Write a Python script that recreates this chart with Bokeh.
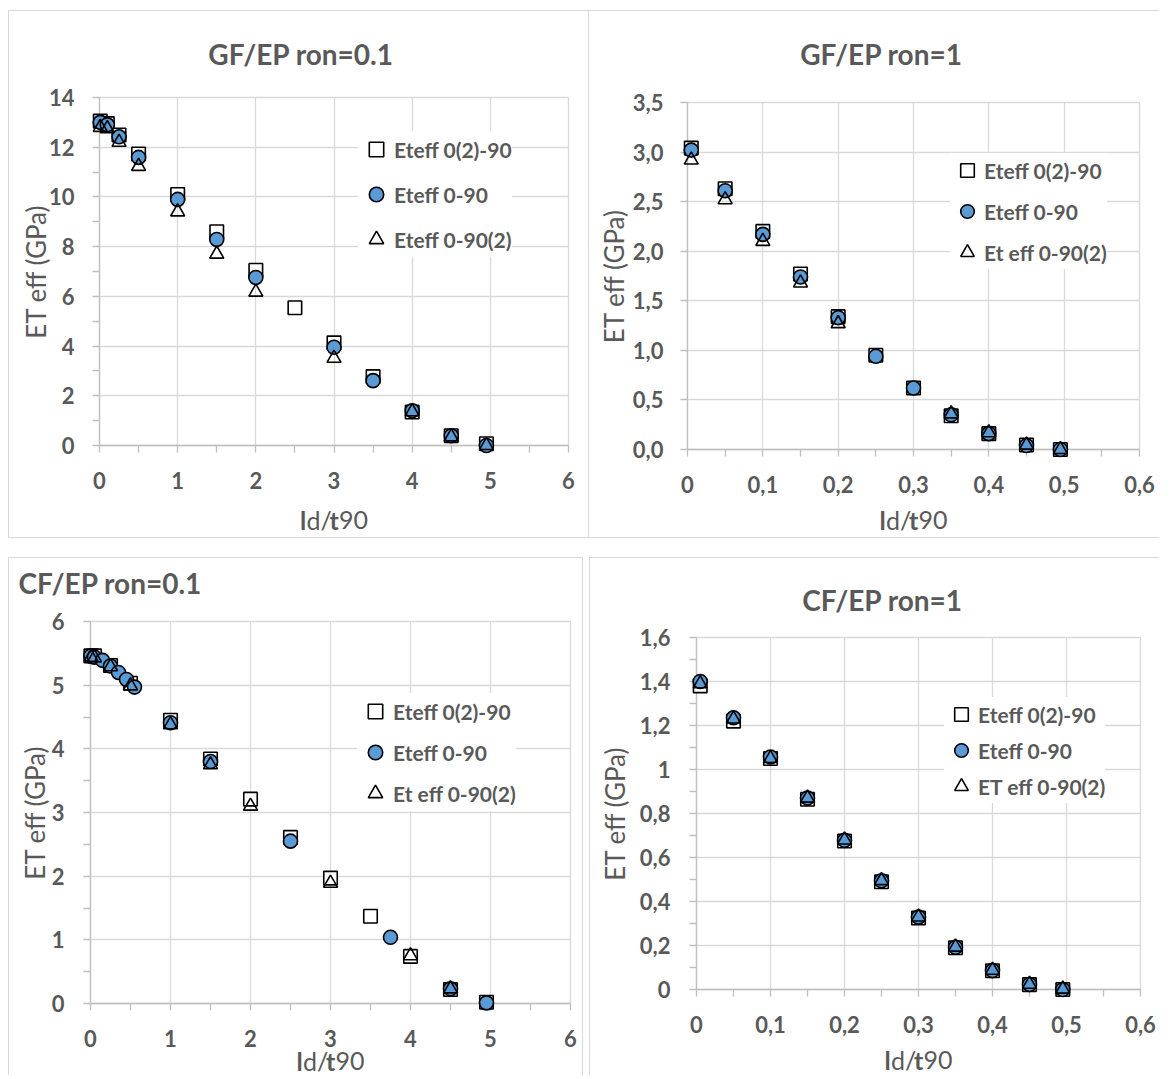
import math
from bokeh.plotting import figure
from bokeh.models import (Range1d, FixedTicker, CustomJSTickFormatter, Legend,
                          LegendItem, Spacer)
from bokeh.layouts import column, row
from bokeh.core.properties import value
from bokeh.embed import file_html
from bokeh.resources import INLINE

# ---------------- data ----------------
# Panel 1: GF/EP ron=0.1
gf01_sq_x = [0.01, 0.1, 0.25, 0.5, 1, 1.5, 2, 2.5, 3, 3.5, 4, 4.5, 4.95]
gf01_sq_y = [13.05, 12.95, 12.49, 11.73, 10.1, 8.6, 7.05, 5.54, 4.13, 2.77, 1.35, 0.39, 0.07]
gf01_ci_x = [0.01, 0.1, 0.25, 0.5, 1, 1.5, 2, 3, 3.5, 4, 4.5, 4.95]
gf01_ci_y = [13.0, 12.9, 12.42, 11.59, 9.9, 8.29, 6.76, 3.95, 2.61, 1.40, 0.39, 0.0]
gf01_tr_x = [0.01, 0.1, 0.25, 0.5, 1, 1.5, 2, 3, 4, 4.5, 4.95]
gf01_tr_y = [12.8, 12.75, 12.2, 11.23, 9.4, 7.7, 6.17, 3.51, 1.36, 0.35, 0.0]

# Panel 2: GF/EP ron=1
gf1_x = [0.005, 0.05, 0.1, 0.15, 0.2, 0.25, 0.3, 0.35, 0.4, 0.45, 0.495]
gf1_sq_y = [3.04, 2.63, 2.20, 1.77, 1.34, 0.95, 0.62, 0.34, 0.16, 0.045, 0.0]
gf1_ci_y = [3.02, 2.61, 2.17, 1.74, 1.33, 0.94, 0.62, 0.35, 0.16, 0.04, 0.0]
gf1_tr_x = [0.005, 0.05, 0.1, 0.15, 0.2, 0.35, 0.4, 0.45, 0.495]
gf1_tr_y = [2.92, 2.52, 2.10, 1.68, 1.27, 0.36, 0.17, 0.045, 0.0]

# Panel 3: CF/EP ron=0.1
cf01_sq_x = [0.005, 0.05, 0.25, 0.5, 1, 1.5, 2, 2.5, 3, 3.5, 4, 4.5, 4.95]
cf01_sq_y = [5.46, 5.46, 5.31, 5.03, 4.45, 3.84, 3.21, 2.61, 1.97, 1.37, 0.74, 0.22, 0.02]
cf01_ci_x = [0.005, 0.05, 0.15, 0.25, 0.35, 0.45, 0.55, 1, 1.5, 2.5, 3.75, 4.5, 4.95]
cf01_ci_y = [5.46, 5.44, 5.39, 5.30, 5.20, 5.09, 4.97, 4.41, 3.80, 2.55, 1.04, 0.23, 0.01]
cf01_tr_x = [0.005, 0.05, 0.25, 0.5, 1, 1.5, 2, 3, 4, 4.5]
cf01_tr_y = [5.44, 5.43, 5.29, 4.99, 4.38, 3.75, 3.10, 1.89, 0.75, 0.23]

# Panel 4: CF/EP ron=1
cf1_x = [0.005, 0.05, 0.1, 0.15, 0.2, 0.25, 0.3, 0.35, 0.4, 0.45, 0.495]
cf1_sq_y = [1.38, 1.22, 1.05, 0.865, 0.675, 0.49, 0.325, 0.19, 0.085, 0.022, 0.0]
cf1_ci_y = [1.40, 1.235, 1.057, 0.87, 0.678, 0.494, 0.329, 0.192, 0.086, 0.023, 0.0]
cf1_tr_y = [1.39, 1.23, 1.05, 0.87, 0.68, 0.495, 0.33, 0.193, 0.088, 0.024, 0.002]

# ticks
ticks_0_6 = [0, 1, 2, 3, 4, 5, 6]
labels_0_6 = ["0", "1", "2", "3", "4", "5", "6"]
ticks_0_06 = [0, 0.1, 0.2, 0.3, 0.4, 0.5, 0.6]
labels_0_06 = ["0", "0,1", "0,2", "0,3", "0,4", "0,5", "0,6"]
ticks_0_14 = [0, 2, 4, 6, 8, 10, 12, 14]
labels_0_14 = ["0", "2", "4", "6", "8", "10", "12", "14"]
ticks_0_35 = [0, 0.5, 1.0, 1.5, 2.0, 2.5, 3.0, 3.5]
labels_0_35 = ["0,0", "0,5", "1,0", "1,5", "2,0", "2,5", "3,0", "3,5"]
ticks_0_16 = [0, 0.2, 0.4, 0.6, 0.8, 1.0, 1.2, 1.4, 1.6]
labels_0_16 = ["0", "0,2", "0,4", "0,6", "0,8", "1", "1,2", "1,4", "1,6"]

titles = ["GF/EP ron=0.1", "GF/EP ron=1", "CF/EP ron=0.1", "CF/EP ron=1"]
legend_sets = [
    ["Eteff 0(2)-90", "Eteff 0-90", "Eteff 0-90(2)"],
    ["Eteff 0(2)-90", "Eteff 0-90", "Et eff 0-90(2)"],
    ["Eteff 0(2)-90", "Eteff 0-90", "Et eff 0-90(2)"],
    ["Eteff 0(2)-90", "Eteff 0-90", "ET eff 0-90(2)"],
]
y_title = "ET eff (GPa)"
# x title pieces: text, weight
x_title_parts = [("l", "bold"), ("d/", "normal"), ("t", "bold"), ("90", "normal")]

# ---------------- style ----------------
FONT = "Lato"
TXT = "#595959"
GRID = "#d9d9d9"
AXC = "#bfbfbf"
BLUE = "#5b9bd5"
BORDER = "1px solid #d9d9d9"
PART_EM = [0.258, 0.926, 0.38, 1.16]   # approximate advance widths (em) of x-title pieces


def fmt(ticks, labels):
    return CustomJSTickFormatter(args=dict(tv=ticks, tl=labels), code="""
        for (let i = 0; i < tv.length; i++) {
            if (Math.abs(tv[i] - tick) < 1e-9) { return tl[i]; }
        }
        return "";
    """)


def mids(ticks):
    return [(a + b) / 2 for a, b in zip(ticks[:-1], ticks[1:])]


def make_panel(w, h, border_sides, mb, xticks, xlabels, xminor, yticks, ylabels, yminor,
               series, title, title_cfg, xlab_off, ylab_off, y_standoff, legend_cfg, leg_labels):
    styles = {f"border-{s}": BORDER for s in border_sides}
    p = figure(width=w, height=h, output_backend="svg", toolbar_location=None, title=None,
               x_range=Range1d(xticks[0], xticks[-1]), y_range=Range1d(yticks[0], yticks[-1]),
               min_border_left=mb[0], min_border_right=mb[1], min_border_top=mb[2],
               min_border_bottom=mb[3], background_fill_color="white",
               border_fill_color="white", outline_line_color=GRID, outline_line_width=1.3,
               styles=styles)
    fw = w - mb[0] - mb[1]
    fh = h - mb[2] - mb[3]
    upx_x = (xticks[-1] - xticks[0]) / fw
    upx_y = (yticks[-1] - yticks[0]) / fh

    xt = FixedTicker(ticks=xticks, minor_ticks=mids(xticks) if xminor else [])
    yt = FixedTicker(ticks=yticks, minor_ticks=mids(yticks) if yminor else [])
    p.xaxis.ticker = xt
    p.yaxis.ticker = yt
    p.xgrid.ticker = FixedTicker(ticks=xticks)
    p.ygrid.ticker = FixedTicker(ticks=yticks)
    p.xaxis.formatter = fmt(xticks, xlabels)
    p.yaxis.formatter = fmt(yticks, ylabels)
    for g in (p.xgrid, p.ygrid):
        g.grid_line_color = GRID
        g.grid_line_width = 1.3
    for ax in (p.xaxis, p.yaxis):
        ax.axis_line_color = AXC
        ax.axis_line_width = 1.3
        ax.major_tick_line_color = AXC
        ax.minor_tick_line_color = AXC
        ax.major_tick_line_width = 1.3
        ax.minor_tick_line_width = 1.3
        ax.major_tick_out = 7
        ax.major_tick_in = 0
        ax.minor_tick_out = 7
        ax.minor_tick_in = 0
        ax.major_label_text_font = FONT
        ax.major_label_text_font_style = "bold"
        ax.major_label_text_font_size = "22px"
        ax.major_label_text_color = TXT
    p.xaxis.major_label_standoff = 19
    p.yaxis.major_label_standoff = y_standoff

    (sx, sy), (cx, cy), (tx, ty) = series
    r1 = p.scatter(sx, sy, marker="square", size=13.5, fill_color="white",
                   line_color="black", line_width=1.6, level="overlay")
    r2 = p.scatter(cx, cy, marker="circle", size=14, fill_color=BLUE,
                   line_color="black", line_width=1.6, level="overlay")
    r3 = p.scatter(tx, ty, marker="triangle", size=14, fill_alpha=0.0,
                   line_color="black", line_width=1.6, level="overlay")
    renderers = [r1, r2, r3]

    x0, x1 = xticks[0], xticks[-1]
    y0, y1 = yticks[0], yticks[-1]
    xmid = (x0 + x1) / 2
    ymid = (y0 + y1) / 2
    # chart title (above the frame)
    tx_off, ty_off, talign = title_cfg
    p.text(x=[xmid if talign == "center" else x0], y=[y1 + ty_off * upx_y], text=[title],
           x_offset=tx_off, text_align=talign, text_baseline="middle",
           text_font=value(FONT), text_font_style="bold", text_font_size="28px",
           text_color=TXT, level="overlay")
    # y-axis title
    p.text(x=[x0 - ylab_off * upx_x], y=[ymid], text=[y_title], angle=math.pi / 2,
           text_align="center", text_baseline="middle", text_font=value(FONT),
           text_font_size="26px", text_color=TXT, level="overlay")
    # x-axis title: bold l, d/, bold t, 90
    fs = 25
    total = sum(PART_EM) * fs
    off = -total / 2
    for (txt, style), em in zip(x_title_parts, PART_EM):
        p.text(x=[xmid], y=[y0 - xlab_off * upx_y], text=[txt], x_offset=off,
               text_align="left", text_baseline="middle", text_font=value(FONT),
               text_font_style=style, text_font_size=f"{fs}px", text_color=TXT,
               level="overlay")
        off += em * fs
    # legend
    vx, vy, gsz, spacing, pad = legend_cfg
    legend = Legend(items=[LegendItem(label=l, renderers=[r]) for l, r in zip(leg_labels, renderers)],
                    location=(vx, vy), glyph_width=gsz, glyph_height=gsz, spacing=spacing,
                    padding=pad, margin=0, label_standoff=0, border_line_color=None,
                    background_fill_color="white", background_fill_alpha=1.0,
                    label_text_font=FONT, label_text_font_style="bold",
                    label_text_font_size="21px", label_text_color=TXT)
    p.add_layout(legend, "center")
    return p


p1 = make_panel(581, 528, ["top", "left", "bottom", "right"], (90, 22, 86, 94),
                ticks_0_6, labels_0_6, True, ticks_0_14, labels_0_14, True,
                ((gf01_sq_x, gf01_sq_y), (gf01_ci_x, gf01_ci_y), (gf01_tr_x, gf01_tr_y)),
                titles[0], (-33, 44, "center"), 74, 64, 18, (259, 188, 36, 9, 5), legend_sets[0])

p2 = make_panel(570, 528, ["top", "bottom"], (98, 20, 91, 90),
                ticks_0_06, labels_0_06, True, ticks_0_35, labels_0_35, False,
                ((gf1_x, gf1_sq_y), (gf1_x, gf1_ci_y), (gf1_tr_x, gf1_tr_y)),
                titles[1], (-32, 49, "center"), 70, 74, 17, (263, 180, 34, 7, 2), legend_sets[1])

p3 = make_panel(575, 518, ["top", "left", "right"], (81, 14, 63, 73),
                ticks_0_6, labels_0_6, True, ticks_0_6, labels_0_6, True,
                ((cf01_sq_x, cf01_sq_y), (cf01_ci_x, cf01_ci_y), (cf01_tr_x, cf01_tr_y)),
                titles[2], (-72, 39, "left"), 57, 56, 19, (267, 192, 36, 5, 3), legend_sets[2])

p4 = make_panel(570, 518, ["top", "left"], (106, 20, 79, 87),
                ticks_0_06, labels_0_06, True, ticks_0_16, labels_0_16, True,
                ((cf1_x, cf1_sq_y), (cf1_x, cf1_ci_y), (cf1_x, cf1_tr_y)),
                titles[3], (-36, 38, "center"), 70, 82, 19, (248, 186, 34, 2, 3), legend_sets[3])

layout = row(
    Spacer(width=8, height=10),
    column(
        Spacer(width=10, height=10),
        row(column(p1), column(p2)),
        Spacer(width=10, height=19),
        row(column(p3), Spacer(width=6, height=10), column(p4)),
    ),
)

open("out.html", "w").write(file_html(layout, INLINE))
